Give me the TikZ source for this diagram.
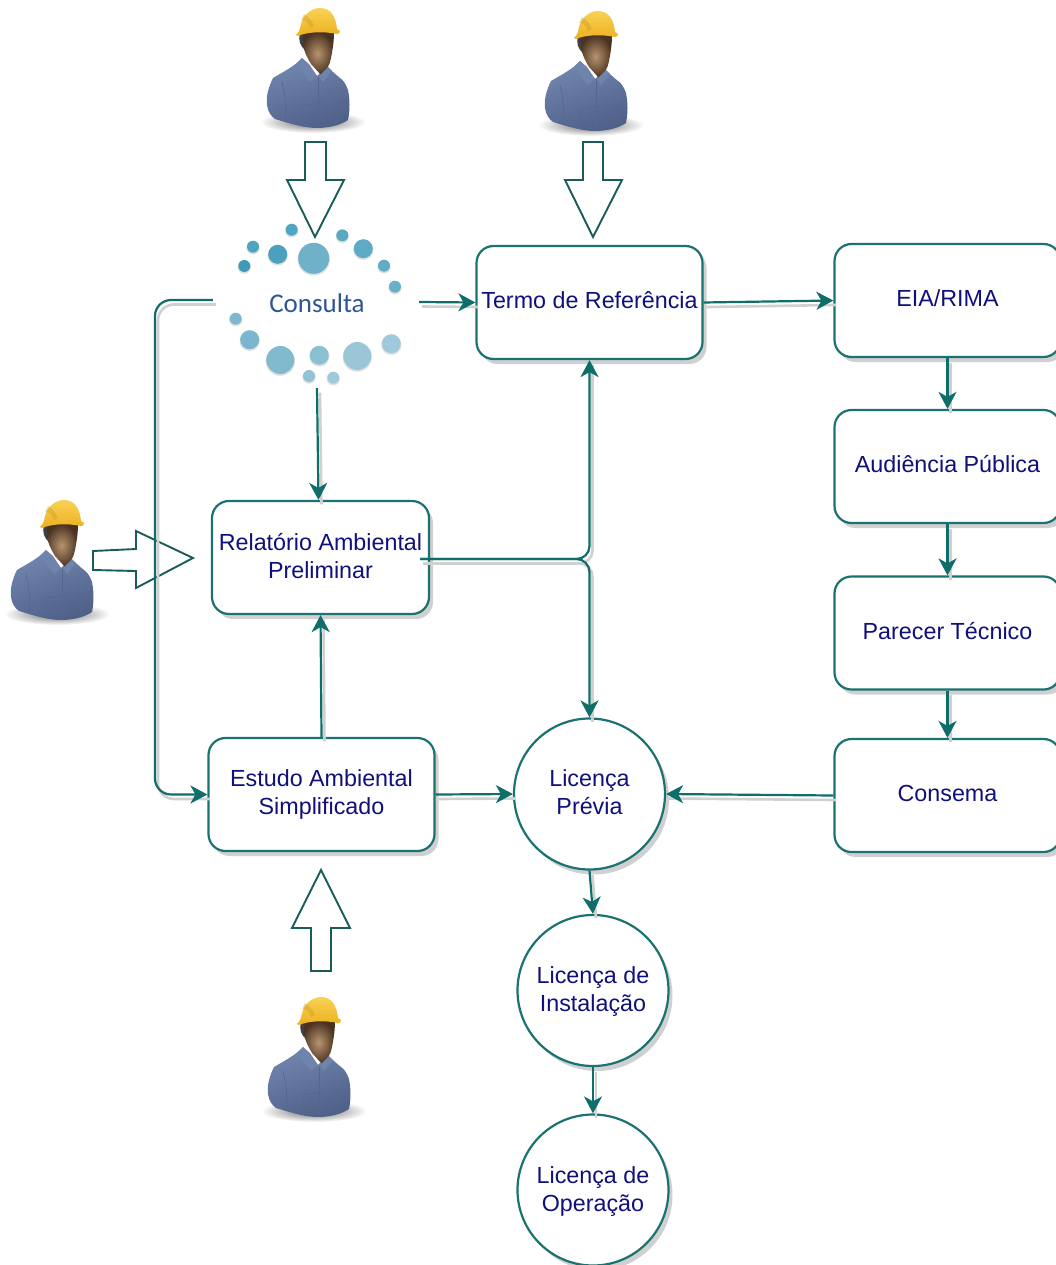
\documentclass[tikz,border=0pt]{standalone}
\usepackage{fontspec}
\setmainfont{Liberation Sans}
\newfontfamily\consultafont{Carlito}
\usetikzlibrary{arrows.meta,shadows}
\definecolor{edgeteal}{HTML}{1A7370}
\definecolor{tiptel}{HTML}{0F6E6A}
\definecolor{hollow}{HTML}{1A5C5A}
\definecolor{labelnavy}{HTML}{10107A}
\definecolor{shadowgray}{HTML}{D0D0D0}
\definecolor{consultablue}{HTML}{2F5597}
\definecolor{BodyTop}{HTML}{7186AE}
\definecolor{BodyLow}{HTML}{4F6089}
\definecolor{BodyCollar}{HTML}{6F84AC}
\definecolor{BodyLine}{HTML}{56678F}
\definecolor{FaceLight}{HTML}{B8946F}
\definecolor{FaceDark}{HTML}{4A3220}
\definecolor{HatLight}{HTML}{F8D255}
\definecolor{HatDark}{HTML}{EDB021}
\newcommand{\liftedtext}[2]{\raisebox{#1}[\height][\depth]{\begin{tabular}{@{}c@{}}#2\end{tabular}}}
\tikzset{
  labelfont/.style={font=\fontsize{23.3}{28}\selectfont,text=labelnavy,align=center,inner sep=0pt},
  nodeshadow/.style={drop shadow={shadow xshift=4pt,shadow yshift=-5pt,opacity=1,fill=shadowgray}},
  stagebox/.style={labelfont,draw=edgeteal,line width=2.2pt,fill=white,rounded corners=17pt,
    minimum width=226pt,minimum height=113pt,nodeshadow},
  licence/.style={labelfont,draw=edgeteal,line width=2.2pt,fill=white,circle,minimum size=151pt,nodeshadow},
  link/.style={draw=tiptel,line width=2.2pt,-{Stealth[length=17pt,width=18pt,inset=5pt]},
    preaction={draw=shadowgray,-,line width=2.6pt,transform canvas={shift={(3pt,-4.5pt)}}}},
  hollowarrow/.style={draw=hollow,line width=1.9pt,fill=white,line join=miter},
  worker/.pic={
    \shade[inner color=black!60,outer color=white] (0,122) ellipse (53 and 11);
    % body
    \shade[top color=BodyTop,bottom color=BodyLow,shading angle=20]
      (-11,58) .. controls (-18,66) and (-30,72) .. (-40,78)
      .. controls (-45,88) and (-47,97) .. (-46,105)
      .. controls (-45,112) and (-42,116) .. (-38,119)
      .. controls (-22,124) and (-8,128) .. (4,128)
      .. controls (16,128) and (28,125) .. (35,120)
      .. controls (37,110) and (37,100) .. (35,90)
      .. controls (33,84) and (30,80) .. (27,78)
      .. controls (22,74) and (18,70) .. (14,67)
      -- (4,76) -- cycle;
    % neck and face
    \shade[inner color=FaceLight,outer color=FaceDark]
      (-11,32) .. controls (-12,45) and (-7,56) .. (-2,64)
      -- (8,75) .. controls (13,71) and (17,65) .. (18,58)
      .. controls (20,48) and (21,40) .. (21,32) -- cycle;
    \fill[black!75] (-13,33) .. controls (-15,40) and (-13,46) .. (-8,50)
      .. controls (-11,44) and (-11,38) .. (-9,33) -- cycle;
    % collar
    \fill[BodyCollar] (-11,58) -- (-4,64) -- (4,76) -- (-3,82) -- (-17,64) -- cycle;
    \fill[BodyCollar] (15,67) -- (6,76) -- (10,82) -- (19,71) -- cycle;
    % shirt details
    \draw[BodyLine,line width=0.6pt] (5,78) -- (5,127);
    \draw[BodyLine,line width=0.6pt] (-31,82) .. controls (-28,95) and (-26,108) .. (-28,121);
    \draw[BodyLine,line width=0.7pt] (-11,106) -- (8,103) (-11,106) -- (-9,127) (-2,111) -- (-1,127);
    \draw[BodyLine,line width=0.7pt] (23,103) -- (35,98) (23,103) -- (25,122);
    % helmet
    \shade[top color=HatLight,bottom color=HatDark]
      (-17,35) .. controls (-14,32) and (-13,30) .. (-12,24)
      .. controls (-9,13) and (0,8) .. (7,8)
      .. controls (17,8) and (23,16) .. (24,29)
      -- (27,31) .. controls (27,33) and (26,34) .. (24,34)
      .. controls (10,31) and (-6,32) .. (-15,36) -- cycle;
    \fill[HatDark!85!black,opacity=0.35] (-9,14) .. controls (-5,17) and (-1,20) .. (1,26)
      -- (-3,28) .. controls (-5,22) and (-8,20) .. (-12,20) -- cycle;
  }
}
\begin{document}
\begin{tikzpicture}[x=1pt,y=-1pt]
\useasboundingbox (0,0) rectangle (1056,1265);

% workers
\pic at (313,0) {worker};
\pic at (591,3) {worker};
\pic at (57,492) {worker};
\pic at (314,989) {worker};

% consulta ring
\foreach \px/\py/\pr/\pc in {
  313.7/258.3/15.5/6FB1C9, 277.7/254.3/9.5/4AA0BD, 253/246.7/6/4EA5C1, 244.3/266/6/3F9AB8,
  291.7/229.7/6/50A6C2, 342.3/235.3/6/58A9C4, 363.3/248.7/9.5/5FAAC5, 384/265.7/6/61ADC7,
  395/286.7/6/68B0C9, 235.7/318.7/6/7DB8CE, 249.7/339.7/9.5/7AB6CD, 280.3/360/14/81BACE,
  319.3/355.3/9.5/8BBFD2, 357.3/356/14/9AC6D8, 391.3/343.7/9.5/A0CADB, 309/376/6/93C3D5,
  333.3/377.7/6/A0CADB}{
  \definecolor{ringtone}{HTML}{\pc}
  \fill[black!12] (\px,\py+1.2) circle[radius=\pr+0.6];
  \fill[ringtone] (\px,\py) circle[radius=\pr];
}
\node[minimum width=206pt,minimum height=176pt,inner sep=0pt] (consulta) at (316,300) {};
\node[font=\consultafont\fontsize{27}{30}\selectfont,text=consultablue,inner sep=0pt] (consultatext) at (317,303.5) {Consulta};

% process boxes
\node[stagebox] (termo) at (589.5,302.5) {\liftedtext{0pt}{Termo de Referência}};
\node[stagebox] (eia) at (947.5,300.5) {\liftedtext{0pt}{EIA/RIMA}};
\node[stagebox] (aud) at (947.5,466.5) {\liftedtext{0pt}{Audiência Pública}};
\node[stagebox] (par) at (947.5,633) {\liftedtext{-1pt}{Parecer Técnico}};
\node[stagebox] (cons) at (947.5,795.5) {\liftedtext{0pt}{Consema}};
\node[stagebox,minimum width=217pt] (rel) at (320.5,557.5) {\liftedtext{-1pt}{Relatório Ambiental\\Preliminar}};
\node[stagebox] (est) at (321.5,794.5) {Estudo Ambiental\\Simplificado};

% licences
\node[licence] (lp) at (589.5,794) {\liftedtext{-1pt}{Licença\\Prévia}};
\node[licence] (li) at (593,990.5) {\liftedtext{-1pt}{Licença de\\Instalação}};
\node[licence] (lo) at (593,1190) {\liftedtext{-1.5pt}{Licença de\\Operação}};

% hollow arrows
\draw[hollowarrow] (305,142) -- (326,142) -- (326,180) -- (344,180) -- (315,237) -- (287,180) -- (305,180) -- cycle;
\draw[hollowarrow] (583,142) -- (603,142) -- (603,180) -- (622,180) -- (593,237) -- (565,180) -- (583,180) -- cycle;
\draw[hollowarrow] (93,551) -- (136,549) -- (136,531) -- (193,558) -- (136,588) -- (136,571) -- (93,570) -- cycle;
\draw[hollowarrow] (311,971) -- (331,971) -- (331,928) -- (350,928) -- (321,870) -- (292,928) -- (311,928) -- cycle;

% connectors
\coordinate (bendleft) at (155,300);
\coordinate (relout) at (420,559);
\draw[link,rounded corners=16pt] (consulta.west) -- (bendleft) -- (bendleft |- est.west) -- (est.west);
\draw[link] ([yshift=-2pt]consulta.east) -- (termo.west);
\draw[link] ([xshift=1pt]consulta.south) -- ([xshift=-2pt]rel.north);
\draw[link] (termo.east) -- (eia.west);
\draw[link] (eia.south) -- (aud.north);
\draw[link] (aud.south) -- (par.north);
\draw[link] (par.south) -- (cons.north);
\draw[link] (cons.west) -- (lp.east);
\draw[link] (est.north) -- (rel.south);
\draw[link] (est.east) -- (lp.west);
\draw[link,rounded corners=13pt] (relout) -- (relout -| termo.south) -- (termo.south);
\draw[link,rounded corners=13pt] (relout) -- (relout -| lp.north) -- (lp.north);
\draw[link] (lp.south) -- (li.north);
\draw[link] (li.south) -- (lo.north);
\end{tikzpicture}
\end{document}
